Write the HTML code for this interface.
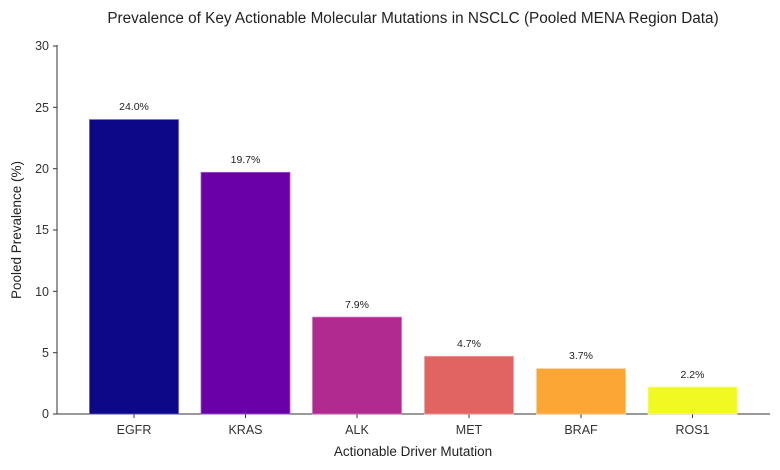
<!DOCTYPE html>
<html><head><meta charset="utf-8"><style>
html,body{margin:0;padding:0;background:#fff;}
svg{display:block;font-family:"Liberation Sans",sans-serif;}
</style></head><body>
<svg width="780" height="470" viewBox="0 0 780 470" xmlns="http://www.w3.org/2000/svg">
<text x="413" y="23" text-anchor="middle" font-size="15.3" fill="#222">Prevalence of Key Actionable Molecular Mutations in NSCLC (Pooled MENA Region Data)</text>
<g stroke="#333" stroke-width="1">
<line x1="57" y1="45" x2="57" y2="414"/>
<line x1="57" y1="414" x2="770" y2="414"/>
<line x1="53" y1="414" x2="57" y2="414"/>
<line x1="53" y1="352.7" x2="57" y2="352.7"/>
<line x1="53" y1="291.3" x2="57" y2="291.3"/>
<line x1="53" y1="230" x2="57" y2="230"/>
<line x1="53" y1="168.7" x2="57" y2="168.7"/>
<line x1="53" y1="107.3" x2="57" y2="107.3"/>
<line x1="53" y1="46" x2="57" y2="46"/>
<line x1="134" y1="414" x2="134" y2="418"/>
<line x1="245.5" y1="414" x2="245.5" y2="418"/>
<line x1="357" y1="414" x2="357" y2="418"/>
<line x1="469" y1="414" x2="469" y2="418"/>
<line x1="581" y1="414" x2="581" y2="418"/>
<line x1="692.5" y1="414" x2="692.5" y2="418"/>
</g>
<g font-size="12.5" fill="#333" text-anchor="end">
<text x="49" y="418">0</text>
<text x="49" y="357">5</text>
<text x="49" y="296">10</text>
<text x="49" y="234">15</text>
<text x="49" y="173">20</text>
<text x="49" y="112">25</text>
<text x="49" y="50">30</text>
</g>
<g stroke-width="0.8">
<rect x="89.5" y="119.6" width="89" height="294.4" fill="#0d0887" stroke="#5a5ac0"/>
<rect x="201" y="172.3" width="89" height="241.7" fill="#6a00a8" stroke="#a060d0"/>
<rect x="312.5" y="317.1" width="89" height="96.9" fill="#b12a90" stroke="#d070c0"/>
<rect x="424.5" y="356.3" width="89" height="57.7" fill="#e16462" stroke="#f0a0a0"/>
<rect x="536.5" y="368.6" width="89" height="45.4" fill="#fca636" stroke="#fdd090"/>
<rect x="648" y="387" width="89" height="27" fill="#f0f921" stroke="#f8fc90"/>
</g>
<g font-size="10.5" fill="#222" text-anchor="middle">
<text x="134" y="110">24.0%</text>
<text x="245.5" y="163">19.7%</text>
<text x="357" y="308">7.9%</text>
<text x="469" y="347">4.7%</text>
<text x="581" y="359">3.7%</text>
<text x="692.5" y="378">2.2%</text>
</g>
<g font-size="12.5" fill="#333" text-anchor="middle">
<text x="134" y="434">EGFR</text>
<text x="245.5" y="434">KRAS</text>
<text x="357" y="434">ALK</text>
<text x="469" y="434">MET</text>
<text x="581" y="434">BRAF</text>
<text x="692.5" y="434">ROS1</text>
</g>
<text x="413" y="456" text-anchor="middle" font-size="13.5" fill="#222">Actionable Driver Mutation</text>
<text transform="translate(21,230) rotate(-90)" text-anchor="middle" font-size="13.5" fill="#222">Pooled Prevalence (%)</text>
</svg>
</body></html>
